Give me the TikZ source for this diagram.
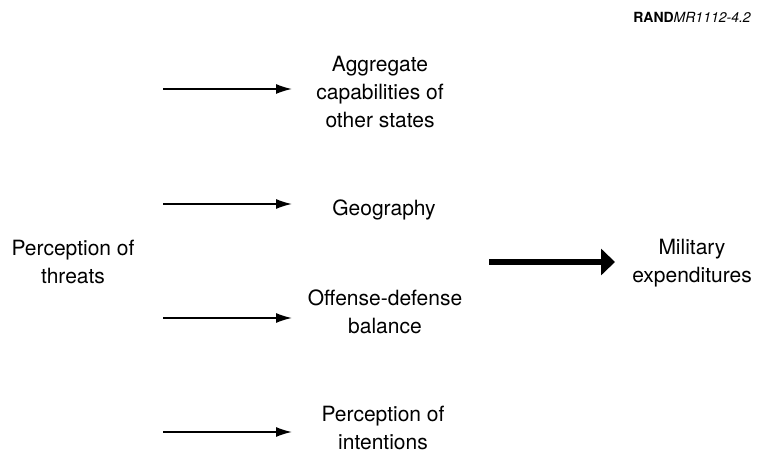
\documentclass[tikz,border=0pt]{standalone}
\usepackage{fontspec}
\setmainfont{TeX Gyre Heros}
\usepackage{tikz}
\usetikzlibrary{arrows.meta}

\tikzset{
  factor/.style={align=center, font=\fontsize{10.5}{14}\selectfont},
  thinarrow/.style={-{Latex[length=8pt,width=5pt]}, line width=0.8pt},
  thickarrow/.style={-{Triangle[length=7pt,width=13pt]}, line width=3pt},
}

\begin{document}
\begin{tikzpicture}[x=0.5pt, y=-0.5pt]
            \useasboundingbox (0, 0) rectangle (759, 453);
            %
            \node[anchor=base east, font=\fontsize{7}{8}\selectfont] (tag) at (758, 23) {\textbf{RAND}\textit{MR1112-4.2}};
            %
            \node[factor] (threats) at (73, 262) {Perception of\\threats};
            \node[factor] (capab) at (380, 92) {Aggregate\\capabilities of\\other states};
            \node[factor] (geo) at (384, 210) {Geography};
            \node[factor] (offdef) at (385, 312) {Offense-defense\\balance};
            \node[factor] (intent) at (383, 428) {Perception of\\intentions};
            \node[factor] (milex) at (692, 263) {Military\\expenditures};
            %
            \coordinate (capabS) at (163, 89);
            \coordinate (capabE) at (292, 89);
            \coordinate (geoS) at (163, 204);
            \coordinate (geoE) at (292, 204);
            \coordinate (offdefS) at (163, 318);
            \coordinate (offdefE) at (292, 318);
            \coordinate (intentS) at (163, 432);
            \coordinate (intentE) at (292, 432);
            \coordinate (milexS) at (489, 262);
            \coordinate (milexE) at (615, 262);
            %
            \draw[thinarrow] (capabS) -- (capabE);
            \draw[thinarrow] (geoS) -- (geoE);
            \draw[thinarrow] (offdefS) -- (offdefE);
            \draw[thinarrow] (intentS) -- (intentE);
            %
            \draw[thickarrow] (milexS) -- (milexE);
\end{tikzpicture}
\end{document}
